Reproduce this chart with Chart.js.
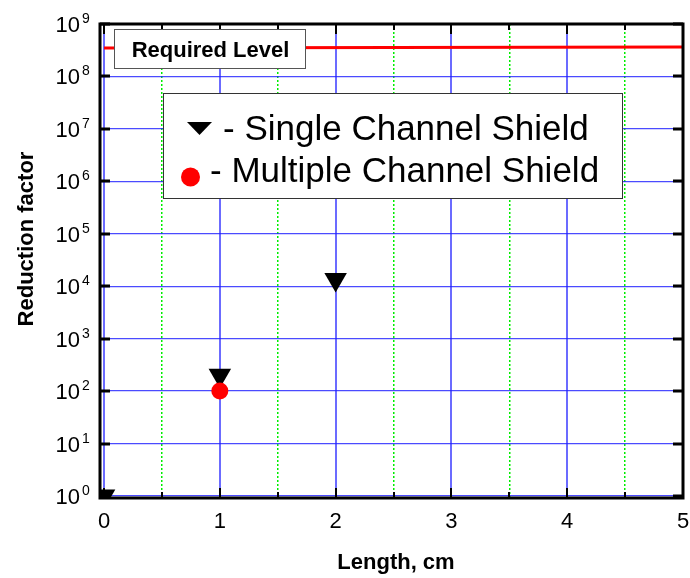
<!DOCTYPE html>
<html>
<head>
<meta charset="utf-8">
<script src="https://cdn.jsdelivr.net/npm/chart.js@4/dist/chart.umd.min.js"></script>
<style>
  html, body { margin: 0; padding: 0; background: #fff; overflow: hidden; }
  canvas { display: block; }
</style>
</head>
<body>
<canvas id="reductionChart" width="690" height="578"></canvas>
<script>
// values
const lengthSingle = [0, 1, 2];
const reductionSingle = [1, 200, 13500];
const lengthMultiple = [1];
const reductionMultiple = [100];
const requiredLength = [0, 5];
const requiredLevel = [3.48e8, 3.65e8];

const xTicks = [0, 1, 2, 3, 4, 5];
const xMinorTicks = [0.5, 1.5, 2.5, 3.5, 4.5];
const yExponents = [0, 1, 2, 3, 4, 5, 6, 7, 8, 9];
const legendLabels = ['- Single Channel Shield', '- Multiple Channel Shield'];
const requiredLabel = 'Required Level';
const xTitle = 'Length, cm';
const yTitle = 'Reduction factor';

const FONT = '"Liberation Sans", Arial, sans-serif';

const toPoints = (xs, ys) => xs.map((x, i) => ({ x, y: ys[i] }));

// frame, inward ticks, tick labels, titles, label box and legend
const decorPlugin = {
  id: 'decor',
  afterDatasetsDraw(chart) {
    const { ctx, chartArea: a, scales } = chart;
    const xs = scales.x;
    const ys = scales.y;

    ctx.save();
    ctx.strokeStyle = '#000';

    // y ticks on both sides
    ctx.lineWidth = 3;
    yExponents.forEach(p => {
      const py = Math.round(ys.getPixelForValue(Math.pow(10, p)));
      ctx.beginPath();
      ctx.moveTo(a.left, py); ctx.lineTo(a.left + 10, py);
      ctx.moveTo(a.right, py); ctx.lineTo(a.right - 10, py);
      ctx.stroke();
    });

    // x ticks top and bottom
    ctx.lineWidth = 2;
    xTicks.concat(xMinorTicks).forEach(v => {
      const px = Math.round(xs.getPixelForValue(v));
      const len = Number.isInteger(v) ? 10 : 6;
      ctx.beginPath();
      ctx.moveTo(px, a.bottom); ctx.lineTo(px, a.bottom - len);
      ctx.moveTo(px, a.top); ctx.lineTo(px, a.top + len);
      ctx.stroke();
    });

    // frame
    ctx.lineWidth = 3;
    ctx.strokeRect(a.left, a.top, a.right - a.left, a.bottom - a.top);

    // tick labels
    ctx.fillStyle = '#000';
    ctx.textBaseline = 'alphabetic';
    yExponents.forEach(p => {
      const py = ys.getPixelForValue(Math.pow(10, p));
      ctx.font = '22px ' + FONT;
      ctx.textAlign = 'right';
      ctx.fillText('10', 80, py + 8);
      ctx.font = '14px ' + FONT;
      ctx.textAlign = 'left';
      ctx.fillText(String(p), 82, py - 1);
    });
    ctx.font = '22px ' + FONT;
    ctx.textAlign = 'center';
    xTicks.forEach(v => {
      ctx.fillText(String(v), xs.getPixelForValue(v), 528);
    });

    // axis titles
    ctx.font = 'bold 22px ' + FONT;
    ctx.fillText(xTitle, 396, 569);
    ctx.save();
    ctx.translate(33, 239);
    ctx.rotate(-Math.PI / 2);
    ctx.fillText(yTitle, 0, 0);
    ctx.restore();

    // "Required Level" box
    ctx.fillStyle = '#fff';
    ctx.fillRect(114.5, 29.5, 191, 39);
    ctx.lineWidth = 1;
    ctx.strokeStyle = '#555';
    ctx.strokeRect(114.5, 29.5, 191, 39);
    ctx.fillStyle = '#000';
    ctx.font = 'bold 22px ' + FONT;
    ctx.textAlign = 'center';
    ctx.fillText(requiredLabel, 210.5, 57);

    // legend box
    ctx.fillStyle = '#fff';
    ctx.fillRect(163.5, 93.5, 459, 105);
    ctx.strokeStyle = '#333';
    ctx.strokeRect(163.5, 93.5, 459, 105);

    ctx.fillStyle = '#000';
    ctx.beginPath();
    ctx.moveTo(187, 122); ctx.lineTo(212, 122); ctx.lineTo(199.5, 135);
    ctx.closePath();
    ctx.fill();

    ctx.fillStyle = '#ff0000';
    ctx.beginPath();
    ctx.arc(190.5, 177, 9.5, 0, Math.PI * 2);
    ctx.fill();

    ctx.fillStyle = '#000';
    ctx.font = '35px ' + FONT;
    ctx.textAlign = 'left';
    ctx.fillText(legendLabels[0], 223, 140);
    ctx.fillText(legendLabels[1], 210, 182);

    ctx.restore();
  },
};

const ctx = document.getElementById('reductionChart').getContext('2d');

new Chart(ctx, {
  type: 'scatter',
  data: {
    datasets: [
      {
        label: 'Multiple Channel Shield',
        data: toPoints(lengthMultiple, reductionMultiple),
        pointStyle: 'circle',
        pointRadius: 8.5,
        pointHoverRadius: 8.5,
        backgroundColor: '#ff0000',
        borderColor: '#ff0000',
        borderWidth: 0,
      },
      {
        label: 'Single Channel Shield',
        data: toPoints(lengthSingle, reductionSingle),
        pointStyle: 'triangle',
        rotation: 180,
        pointRadius: 13,
        pointHoverRadius: 13,
        backgroundColor: '#000',
        borderColor: '#000',
        borderWidth: 0,
      },
      {
        label: 'Required Level',
        data: toPoints(requiredLength, requiredLevel),
        showLine: true,
        borderColor: '#ff0000',
        borderWidth: 3,
        pointRadius: 0,
      },
    ],
  },
  options: {
    responsive: false,
    animation: false,
    events: [],
    // chart area lands at 100..683 x 24..498
    layout: { autoPadding: false, padding: { left: 100, top: 24, right: 7, bottom: 80 } },
    plugins: {
      legend: { display: false },
      tooltip: { enabled: false },
    },
    scales: {
      x: {
        type: 'linear',
        min: -0.035,
        max: 5,
        afterBuildTicks: s => { s.ticks = xTicks.map(v => ({ value: v })); },
        ticks: { display: false },
        grid: { color: 'rgba(70,70,255,0.8)', lineWidth: 2, drawTicks: false },
        border: { display: false },
      },
      xHalf: {
        type: 'linear',
        position: 'bottom',
        min: -0.035,
        max: 5,
        afterBuildTicks: s => { s.ticks = xMinorTicks.map(v => ({ value: v })); },
        ticks: { display: false },
        grid: { color: '#00ee00', lineWidth: 1.5, drawTicks: false },
        border: { display: false, dash: [2, 2] },
      },
      y: {
        type: 'logarithmic',
        min: 0.916,
        max: 1e9,
        afterBuildTicks: s => { s.ticks = yExponents.map(p => ({ value: Math.pow(10, p) })); },
        ticks: { display: false },
        grid: { color: 'rgba(30,30,255,0.8)', lineWidth: 1.3, drawTicks: false },
        border: { display: false },
      },
    },
  },
  plugins: [decorPlugin],
});
</script>
</body>
</html>
